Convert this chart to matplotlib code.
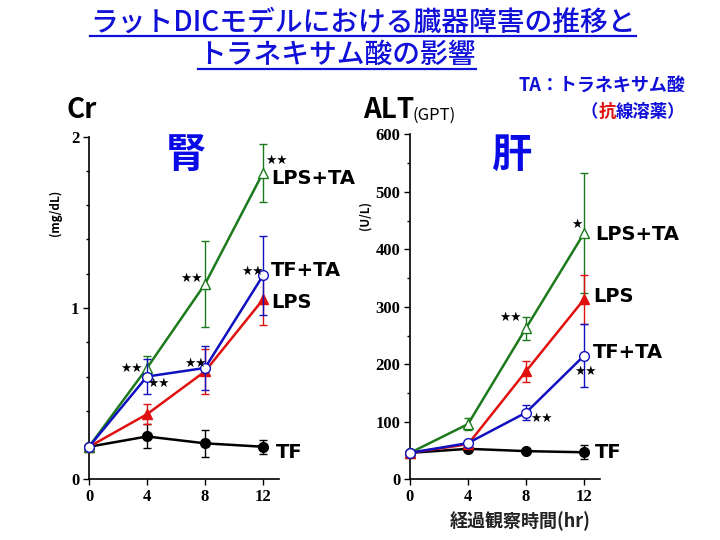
import matplotlib
matplotlib.use("Agg")
import matplotlib.pyplot as plt
from matplotlib.lines import Line2D
from matplotlib.ticker import MultipleLocator

W, H = 720, 540
fig = plt.figure(figsize=(7.2, 5.4), dpi=100)

JP = ['Noto Sans CJK JP', 'DejaVu Sans']
TICKF = 'Liberation Serif'

hours = [0, 4, 8, 12]

# Cr (mg/dL)
cr_tf = [0.19, 0.25, 0.21, 0.19]
cr_tf_err = [0.0, 0.07, 0.08, 0.04]
cr_lps = [0.19, 0.38, 0.63, 1.05]
cr_lps_err = [0.0, 0.06, 0.13, 0.15]
cr_tfta = [0.19, 0.60, 0.65, 1.19]
cr_tfta_err = [0.0, 0.10, 0.13, 0.23]
cr_lpsta = [0.19, 0.65, 1.14, 1.79]
cr_lpsta_err = [0.0, 0.07, 0.25, 0.17]

# ALT (U/L)
alt_tf = [46, 53, 49, 47]
alt_tf_err = [0, 3, 3, 12]
alt_lps = [46, 61, 188, 313]
alt_lps_err = [0, 4, 18, 43]
alt_tfta = [46, 63, 116, 215]
alt_tfta_err = [0, 3, 13, 55]
alt_lpsta = [46, 96, 263, 428]
alt_lpsta_err = [0, 10, 20, 104]

GREEN = '#1c7a1c'
BLUE = '#1010c0'
RED = '#e01010'
BLACK = '#000000'


def px(x, y):
    return x / W, 1 - y / H


def make_ax(left, right, top, bottom, ymax, ymajor, yminor):
    l, b = px(left, bottom)
    r, t = px(right, top)
    ax = fig.add_axes([l, b, r - l, t - b])
    for s in ['top', 'right']:
        ax.spines[s].set_visible(False)
    for s in ['left', 'bottom']:
        ax.spines[s].set_linewidth(1.2)
    ax.set_xlim(0, 13.1)
    ax.set_ylim(0, ymax)
    ax.set_xticks(hours)
    ax.yaxis.set_major_locator(MultipleLocator(ymajor))
    ax.yaxis.set_minor_locator(MultipleLocator(yminor))
    ax.tick_params(direction='out', length=4, width=1, labelsize=12, pad=3)
    ax.tick_params(which='minor', direction='out', length=2.5, width=1)
    for lab in ax.get_xticklabels() + ax.get_yticklabels():
        lab.set_fontfamily(TICKF)
        lab.set_fontweight('bold')
    ax.patch.set_alpha(0)
    return ax


def series(ax, y, e, color, marker, face, z):
    ax.errorbar(hours, y, yerr=e, color=color, lw=1.8, elinewidth=1.0,
                capsize=3, capthick=1.0, marker=marker, markersize=7,
                markerfacecolor=face, markeredgecolor=color,
                markeredgewidth=1.0, zorder=z, clip_on=False)


ax1 = make_ax(89, 279, 136.7, 479.3, 2, 1, 0.2)
series(ax1, cr_tf, cr_tf_err, BLACK, 'o', BLACK, 3)
series(ax1, cr_lps, cr_lps_err, RED, '^', RED, 4)
series(ax1, cr_lpsta, cr_lpsta_err, GREEN, '^', 'white', 5)
series(ax1, cr_tfta, cr_tfta_err, BLUE, 'o', 'white', 6)

ax2 = make_ax(410, 600, 134.3, 479.3, 600, 100, 50)
series(ax2, alt_tf, alt_tf_err, BLACK, 'o', BLACK, 3)
series(ax2, alt_lpsta, alt_lpsta_err, GREEN, '^', 'white', 4)
series(ax2, alt_lps, alt_lps_err, RED, '^', RED, 5)
series(ax2, alt_tfta, alt_tfta_err, BLUE, 'o', 'white', 6)


def ftext(x, y, s, **kw):
    return fig.text(*px(x, y), s, **kw)


# series labels
LAB = dict(fontsize=14, family='DejaVu Sans', fontweight='bold', va='center', ha='left', color='black')
ftext(271, 178, 'LPS+TA', **LAB)
ftext(271, 270, 'TF+TA', **LAB)
ftext(271, 303, 'LPS', **LAB)
ftext(276, 453, 'TF', **LAB)
ftext(595, 234, 'LPS+TA', **LAB)
ftext(593, 297, 'LPS', **LAB)
ftext(593, 353, 'TF+TA', **LAB)
ftext(595, 452, 'TF', **LAB)

# significance stars
ST = dict(fontsize=9, family='DejaVu Sans', va='center', ha='center', color='black')
for (x, y, s) in [(276, 160, '★★'), (191, 278, '★★'), (252, 271, '★★'),
                  (131, 368, '★★'), (158, 383, '★★'), (195, 363, '★★'),
                  (577, 224, '★'), (510, 317, '★★'), (541, 418, '★★'),
                  (585, 371, '★★')]:
    ftext(x, y, s, **ST)

# organ labels
ftext(186, 155, '腎', fontsize=29, family=JP, fontweight='bold', color='#0a0ae6', ha='center', va='center')
ftext(512, 155, '肝', fontsize=29, family=JP, fontweight='bold', color='#0a0ae6', ha='center', va='center')

# axis titles
ftext(67, 110, 'Cr', fontsize=20, family=JP, fontweight='bold', ha='left', va='center')
ftext(363, 110, 'ALT', fontsize=20, family=JP, fontweight='bold', ha='left', va='center')
ftext(412, 115, '(GPT)', fontsize=12, family=JP, fontweight='normal', ha='left', va='center')
ftext(55, 213, '(mg/dL)', fontsize=8.5, family=JP, fontweight='bold', rotation=90, ha='center', va='center')
ftext(365, 216, '(U/L)', fontsize=8.5, family=JP, fontweight='bold', rotation=90, ha='center', va='center')
ftext(520, 521, '経過観察時間(hr)', fontsize=13, family=JP, fontweight='bold', ha='center', va='center', color='#222222')

# TA note
TITLEBLUE = '#1010d8'
ftext(602, 86, 'TA：トラネキサム酸', fontsize=13, family=JP, fontweight='bold', color=TITLEBLUE, ha='center', va='center')
t_open = ftext(581, 112, '（', fontsize=12.5, family=JP, fontweight='bold', color=TITLEBLUE, ha='left', va='center')
fig.canvas.draw()
r = fig.canvas.get_renderer()
bb = t_open.get_window_extent(r)
xcur = bb.x1
for s, c in [('抗', RED), ('線溶薬）', TITLEBLUE)]:
    t = fig.text(xcur / W, 1 - 112 / H, s, fontsize=12.5, family=JP, fontweight='bold', color=c, ha='left', va='center')
    fig.canvas.draw()
    xcur = t.get_window_extent(r).x1

# title with underline
TT = dict(fontsize=20, family=JP, fontweight='medium', color=TITLEBLUE, ha='center', va='center')
t1 = ftext(363, 22, 'ラットDICモデルにおける臓器障害の推移と', **TT)
t2 = ftext(337, 54, 'トラネキサム酸の影響', **TT)
fig.canvas.draw()
for t, yline in [(t1, 36), (t2, 69)]:
    b = t.get_window_extent(r)
    fig.add_artist(Line2D([b.x0 / W, b.x1 / W], [1 - yline / H] * 2, color=TITLEBLUE, lw=1.6,
                          transform=fig.transFigure))

fig.savefig('out.png', dpi=100)
